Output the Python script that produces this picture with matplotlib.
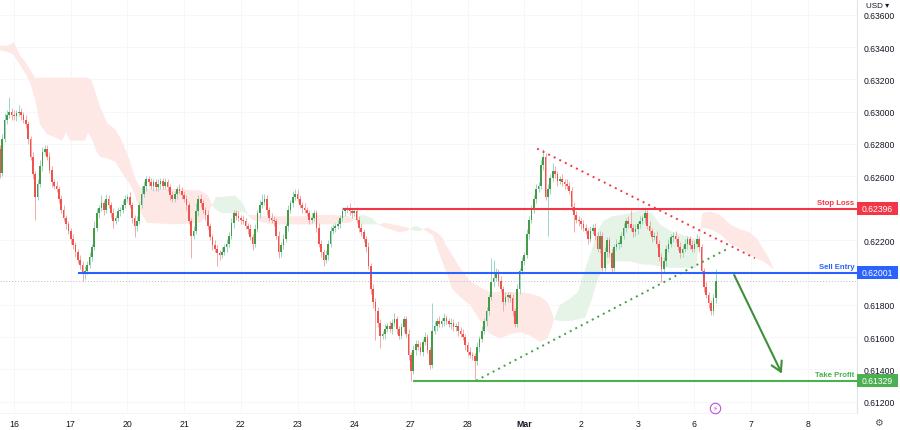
import numpy as np
import matplotlib.pyplot as plt
from matplotlib.patches import Rectangle
from matplotlib.transforms import blended_transform_factory

plt.rcParams['font.family'] = ['Liberation Sans', 'DejaVu Sans']

PIP = 0.0001
first_open = 0.6277

# hourly closes, one list per trading day (first list starts Feb 15 18:00)
feb15 = [0.6262, 0.6283, 0.6295, 0.6298, 0.6300, 0.6298]
feb16 = [0.6297, 0.6299, 0.6300, 0.6298, 0.6295, 0.6292, 0.6283, 0.6272, 0.6261, 0.6247, 0.6255, 0.6266,
         0.6275, 0.6277, 0.6272, 0.6264, 0.6256, 0.6254, 0.6252, 0.6246, 0.6239, 0.6234, 0.6230, 0.6226]
feb17 = [0.6221, 0.6217, 0.6213, 0.6208, 0.6205, 0.6200, 0.6201, 0.6205, 0.6210, 0.6216, 0.6228, 0.6237,
         0.6240, 0.6243, 0.6239, 0.6246, 0.6242, 0.6237, 0.6232, 0.6234, 0.6238, 0.6239, 0.6242, 0.6246]
feb20 = [0.6247, 0.6242, 0.6234, 0.6229, 0.6232, 0.6242, 0.6249, 0.6254, 0.6258, 0.6256, 0.6254, 0.6256,
         0.6253, 0.6255, 0.6257, 0.6254, 0.6256, 0.6253, 0.6248, 0.6246, 0.6249, 0.6252, 0.6251, 0.6248]
feb21 = [0.6246, 0.6242, 0.6232, 0.6223, 0.6226, 0.6238, 0.6246, 0.6243, 0.6239, 0.6236, 0.6229, 0.6222,
         0.6217, 0.6215, 0.6212, 0.6211, 0.6213, 0.6216, 0.6218, 0.6223, 0.6231, 0.6237, 0.6235, 0.6234]
feb22 = [0.6233, 0.6232, 0.6229, 0.6227, 0.6222, 0.6218, 0.6227, 0.6237, 0.6242, 0.6244, 0.6246, 0.6239,
         0.6234, 0.6233, 0.6232, 0.6223, 0.6213, 0.6217, 0.6221, 0.6229, 0.6239, 0.6243, 0.6247, 0.6249]
feb23 = [0.6246, 0.6242, 0.6240, 0.6239, 0.6237, 0.6233, 0.6234, 0.6237, 0.6228, 0.6218, 0.6213, 0.6208,
         0.6211, 0.6218, 0.6226, 0.6228, 0.6229, 0.6230, 0.6234, 0.6238, 0.6239, 0.6240, 0.6238, 0.6237]
feb24 = [0.6238, 0.6233, 0.6228, 0.6225, 0.6221, 0.6216, 0.6204, 0.6190, 0.6182, 0.6176, 0.6169, 0.6161,
         0.6162, 0.6165, 0.6167, 0.6165, 0.6169, 0.6171, 0.6165, 0.6161, 0.6166, 0.6171, 0.6162, 0.6149]
feb27 = [0.6139, 0.6152, 0.6156, 0.6154, 0.6151, 0.6157, 0.6160, 0.6152, 0.6143, 0.6164, 0.6167, 0.6170,
         0.6168, 0.6170, 0.6172, 0.6170, 0.6168, 0.6169, 0.6166, 0.6167, 0.6164, 0.6162, 0.6160, 0.6155]
feb28 = [0.6151, 0.6149, 0.6148, 0.6145, 0.6154, 0.6159, 0.6164, 0.6170, 0.6176, 0.6185, 0.6194, 0.6197,
         0.6200, 0.6195, 0.6190, 0.6182, 0.6185, 0.6186, 0.6184, 0.6176, 0.6168, 0.6190, 0.6201, 0.6207]
mar1 = [0.6211, 0.6224, 0.6233, 0.6239, 0.6246, 0.6252, 0.6254, 0.6267, 0.6272, 0.6247, 0.6252, 0.6259,
        0.6263, 0.6261, 0.6257, 0.6258, 0.6256, 0.6255, 0.6254, 0.6251, 0.6241, 0.6236, 0.6233, 0.6232]
mar2 = [0.6230, 0.6228, 0.6226, 0.6221, 0.6226, 0.6228, 0.6223, 0.6215, 0.6223, 0.6203, 0.6213, 0.6220,
        0.6212, 0.6203, 0.6216, 0.6218, 0.6218, 0.6223, 0.6228, 0.6232, 0.6230, 0.6228, 0.6225, 0.6227]
mar3 = [0.6230, 0.6232, 0.6234, 0.6237, 0.6229, 0.6226, 0.6222, 0.6223, 0.6218, 0.6210, 0.6202, 0.6207,
        0.6215, 0.6218, 0.6222, 0.6223, 0.6221, 0.6216, 0.6212, 0.6215, 0.6218, 0.6221, 0.6217, 0.6215]
mar6 = [0.6218, 0.6221, 0.6216, 0.6201, 0.6191, 0.6186, 0.6181, 0.6176, 0.6184, 0.6195]

# wick lengths in pips above / below the candle body
feb15_up = [2, 3, 4, 3, 9, 2]
feb15_dn = [3, 2, 2, 3, 2, 3]
feb16_up = [3, 2, 4, 2, 2, 3, 2, 2, 3, 2, 3, 4, 3, 2, 2, 3, 2, 2, 3, 2, 2, 3, 2, 2]
feb16_dn = [2, 3, 2, 3, 2, 2, 3, 2, 3, 14, 2, 2, 3, 2, 2, 2, 3, 2, 2, 3, 2, 2, 3, 2]
feb17_up = [2, 3, 2, 2, 3, 2, 3, 2, 3, 2, 4, 3, 2, 5, 2, 3, 2, 2, 3, 2, 3, 2, 3, 2]
feb17_dn = [3, 2, 3, 2, 3, 5, 4, 2, 2, 3, 2, 2, 3, 2, 3, 2, 2, 3, 4, 2, 2, 3, 2, 2]
feb20_up = [2, 3, 2, 2, 3, 2, 5, 3, 2, 2, 3, 2, 2, 3, 2, 2, 3, 2, 2, 3, 2, 2, 3, 2]
feb20_dn = [2, 2, 3, 7, 3, 2, 2, 2, 3, 2, 2, 3, 2, 2, 3, 2, 2, 2, 3, 2, 2, 3, 2, 2]
feb21_up = [3, 2, 2, 2, 3, 5, 2, 3, 2, 2, 3, 2, 2, 3, 2, 2, 3, 2, 3, 2, 3, 2, 2, 3]
feb21_dn = [2, 3, 2, 14, 2, 2, 3, 2, 2, 3, 2, 2, 3, 2, 8, 3, 2, 2, 3, 2, 2, 3, 2, 2]
feb22_up = [2, 3, 2, 2, 3, 2, 3, 2, 3, 5, 3, 2, 2, 3, 2, 2, 3, 2, 3, 2, 3, 2, 4, 3]
feb22_dn = [3, 2, 2, 3, 2, 4, 2, 2, 3, 2, 2, 3, 2, 2, 3, 2, 4, 3, 2, 2, 3, 2, 2, 2]
feb23_up = [3, 2, 2, 3, 2, 2, 3, 2, 2, 3, 2, 2, 3, 2, 3, 2, 2, 3, 2, 3, 2, 2, 3, 2]
feb23_dn = [2, 2, 3, 2, 2, 3, 2, 2, 3, 2, 3, 4, 2, 3, 2, 2, 3, 2, 2, 2, 3, 2, 2, 3]
feb24_up = [2, 3, 2, 3, 2, 2, 3, 2, 3, 2, 3, 2, 2, 3, 2, 3, 2, 4, 2, 2, 3, 2, 2, 3]
feb24_dn = [2, 2, 3, 2, 2, 3, 2, 3, 4, 18, 3, 8, 2, 3, 2, 2, 3, 2, 3, 2, 2, 3, 2, 3]
feb27_up = [2, 3, 2, 2, 3, 2, 3, 2, 2, 17, 3, 2, 3, 2, 3, 2, 2, 3, 2, 2, 3, 2, 3, 2]
feb27_dn = [6, 2, 3, 2, 2, 3, 2, 2, 3, 2, 2, 3, 2, 2, 3, 2, 2, 3, 2, 2, 3, 2, 2, 3]
feb28_up = [2, 3, 2, 2, 3, 2, 3, 2, 3, 2, 15, 11, 3, 2, 3, 2, 3, 2, 2, 3, 2, 3, 2, 3]
feb28_dn = [3, 2, 2, 11, 2, 3, 2, 2, 3, 2, 2, 3, 2, 3, 2, 6, 2, 3, 2, 3, 2, 2, 3, 2]
mar1_up = [2, 3, 2, 3, 2, 3, 2, 3, 5, 2, 3, 2, 5, 3, 2, 2, 3, 2, 3, 2, 2, 3, 2, 2]
mar1_dn = [2, 2, 3, 2, 2, 3, 2, 2, 3, 2, 24, 3, 2, 2, 3, 2, 2, 3, 2, 2, 3, 11, 2, 3]
mar2_up = [2, 3, 2, 2, 3, 2, 3, 2, 3, 2, 3, 2, 2, 3, 2, 3, 2, 2, 3, 2, 3, 9, 2, 3]
mar2_dn = [3, 2, 2, 3, 2, 2, 3, 2, 3, 2, 2, 3, 2, 3, 2, 2, 3, 2, 2, 3, 2, 2, 3, 2]
mar3_up = [2, 3, 2, 4, 2, 3, 2, 2, 3, 2, 2, 3, 2, 3, 2, 2, 3, 2, 3, 2, 3, 2, 2, 3]
mar3_dn = [3, 2, 2, 3, 2, 2, 3, 2, 2, 3, 8, 2, 3, 2, 2, 3, 2, 2, 3, 2, 2, 3, 2, 2]
mar6_up = [2, 3, 2, 2, 2, 3, 2, 2, 3, 7]
mar6_dn = [2, 2, 3, 2, 3, 2, 3, 2, 2, 3]

# Ichimoku cloud (bar index, span A, span B)
cloud_i = [0.07, 3.5, 6, 8.5, 10.7, 12.8, 14.9, 17, 20, 23.4, 26.3, 28, 29.7, 36, 37.3, 39, 40.7, 42.4,
           45.4, 48.8, 50.9, 53, 55.1, 57.2, 59.3, 62.3, 74.1, 84.7, 88.1, 89.8,
           91.5, 94, 99.5, 102.9, 105,
           106.7, 114.4, 127.1, 139.8, 148.2, 150.3,
           153.3, 157.5, 160.1,
           163, 169.4, 172.4, 173.6,
           175.7, 177.9, 179.1,
           181.3, 183.4, 185, 187.2, 189.3, 191.4, 194.8, 199, 203.3, 207.5, 211.7, 216, 220.2, 224.4,
           228.7, 231.6, 233.3, 234.6,
           237.1, 241.4, 244.7, 247.7, 250.7, 252.8, 255.3, 259.1, 266.7, 272.2, 276, 279.4, 283.7,
           290, 294.7, 296,
           297.3, 300.6, 304.8, 309.1, 313.3, 317.5, 320.5, 323, 325.2, 327.3]
span_a = [0.6338, 0.6337, 0.6335, 0.6329, 0.6324, 0.6318, 0.6308, 0.6292, 0.6286, 0.6284, 0.6282, 0.6287,
          0.6282, 0.6282, 0.6287, 0.6283, 0.6276, 0.6272, 0.6271, 0.6269, 0.6264, 0.6259, 0.6255, 0.6248,
          0.6238, 0.6231, 0.6230, 0.6231, 0.6236, 0.6242,
          0.6247, 0.6247, 0.6248, 0.6243, 0.6236,
          0.6233, 0.6230, 0.6230, 0.6230, 0.6231, 0.6233,
          0.6236, 0.6234, 0.6230,
          0.6228, 0.6225, 0.6226, 0.6227,
          0.6229, 0.6228, 0.6227,
          0.6225, 0.6223, 0.6216, 0.6207, 0.6199, 0.6190, 0.6185, 0.6180, 0.6170, 0.6162, 0.6159, 0.6162,
          0.6163, 0.6161, 0.6157, 0.6159, 0.6165, 0.6171,
          0.6180, 0.6184, 0.6188, 0.6202, 0.6215, 0.6225, 0.6232, 0.6235, 0.6237, 0.6239, 0.6237, 0.6230,
          0.6226, 0.6223, 0.6221, 0.6220,
          0.6228, 0.6227, 0.6224, 0.6218, 0.6215, 0.6211, 0.6209, 0.6207, 0.6205, 0.6202]
span_b = [0.6341, 0.6341, 0.6343, 0.6335, 0.6331, 0.6326, 0.6321, 0.6321, 0.6321, 0.6321, 0.6321, 0.6321,
          0.6321, 0.6321, 0.6321, 0.6319, 0.6311, 0.6303, 0.6293, 0.6289, 0.6284, 0.6277, 0.6269, 0.6259,
          0.6253, 0.6252, 0.6252, 0.6251, 0.6248, 0.6242,
          0.6239, 0.6237, 0.6237, 0.6238, 0.6236,
          0.6236, 0.6235, 0.6235, 0.6236, 0.6235, 0.6233,
          0.6230, 0.6230, 0.6230,
          0.6231, 0.6229, 0.6228, 0.6227,
          0.6226, 0.6226, 0.6227,
          0.6228, 0.6226, 0.6225, 0.6222, 0.6216, 0.6211, 0.6203, 0.6195, 0.6191, 0.6188, 0.6188, 0.6188,
          0.6188, 0.6187, 0.6185, 0.6182, 0.6177, 0.6171,
          0.6170, 0.6170, 0.6171, 0.6172, 0.6184, 0.6195, 0.6203, 0.6207, 0.6207, 0.6205, 0.6205, 0.6204,
          0.6203, 0.6203, 0.6203, 0.6220,
          0.6237, 0.6238, 0.6236, 0.6230, 0.6227, 0.6225, 0.6221, 0.6215, 0.6210, 0.6203]

# trade levels
levels = [0.62396, 0.62001, 0.61329]
level_names = ['Stop Loss', 'Sell Entry', 'Take Profit']
level_start = [145.3, 33.1, 174.9]
level_colors = ['#f23645', '#2962ff', '#4caf50']

# trend lines (bar index, price)
red_tl_x, red_tl_y = [227.4, 319.6], [0.6277, 0.6209]
green_tl_x, green_tl_y = [201.6, 308.2], [0.6133, 0.6215]
arrow_from, arrow_to = (310.3, 0.62001), (331.5, 0.61358)

day_labels = ['16', '17', '20', '21', '22', '23', '24', '27', '28', 'Mar', '2', '3', '6', '7', '8']
day_pos = [6, 30, 54, 78, 102, 126, 150, 174, 198, 222, 246, 270, 294, 318, 342]
price_ticks = [0.612, 0.614, 0.616, 0.618, 0.622, 0.626, 0.628, 0.630, 0.632, 0.634, 0.636]

closes = np.array(feb15 + feb16 + feb17 + feb20 + feb21 + feb22 + feb23 + feb24 + feb27 + feb28
                  + mar1 + mar2 + mar3 + mar6)
up = np.array(feb15_up + feb16_up + feb17_up + feb20_up + feb21_up + feb22_up + feb23_up + feb24_up
              + feb27_up + feb28_up + mar1_up + mar2_up + mar3_up + mar6_up) * PIP
dn = np.array(feb15_dn + feb16_dn + feb17_dn + feb20_dn + feb21_dn + feb22_dn + feb23_dn + feb24_dn
              + feb27_dn + feb28_dn + mar1_dn + mar2_dn + mar3_dn + mar6_dn) * PIP
idx = np.arange(len(closes))
opens = np.r_[first_open, closes[:-1]]
highs = np.maximum(opens, closes) + up
lows = np.minimum(opens, closes) - dn
rise = closes >= opens

fig = plt.figure(figsize=(9, 4.31), dpi=100)
ax = fig.add_axes([0, 17 / 431, 857 / 900, 414 / 431])
ax.set_xlim(0.07, 362.8)
ax.set_ylim(0.61129, 0.63699)

for s in ['top', 'left']:
    ax.spines[s].set_visible(False)
ax.spines['right'].set_color('#e0e3eb')
ax.spines['right'].set_linewidth(0.8)
ax.spines['bottom'].set_color('#f0f1f4')
ax.spines['bottom'].set_linewidth(0.6)

for v in day_pos:
    ax.axvline(v, color='#f5f6f9', lw=0.6, zorder=0)
for t in price_ticks:
    ax.axhline(t, color='#f5f6f9', lw=0.6, zorder=0)

# cloud
ci = np.array(cloud_i)
sa = np.array(span_a)
sb = np.array(span_b)
ax.fill_between(ci, sa, sb, where=sa >= sb, interpolate=True, color='#e6f3e7', lw=0, zorder=1)
ax.fill_between(ci, sa, sb, where=sa < sb, interpolate=True, color='#fde8e5', lw=0, zorder=1)

# candles
body_h = np.maximum(np.abs(closes - opens), 0.00002)
ax.vlines(idx[rise], lows[rise], highs[rise], color='#9ad6c8', lw=0.7, zorder=3)
ax.vlines(idx[~rise], lows[~rise], highs[~rise], color='#f5a9a6', lw=0.7, zorder=3)
ax.bar(idx[rise], body_h[rise], bottom=opens[rise], width=0.72, color='#469c44', lw=0, zorder=4)
ax.bar(idx[~rise], body_h[~rise], bottom=closes[~rise], width=0.72, color='#ef5350', lw=0, zorder=4)

# last price line
ax.axhline(closes[-1], color='#b8bcc6', lw=0.7, ls=(0, (1, 2)), zorder=2)

# trend lines
ax.plot(red_tl_x, red_tl_y, color='#f23645', lw=1.4, ls=(0, (1, 2.2)), zorder=5)
ax.plot(green_tl_x, green_tl_y, color='#43a047', lw=1.4, ls=(0, (1, 2.2)), zorder=5)

# levels, labels and price tags
blend = blended_transform_factory(ax.transAxes, ax.transData)
tag_h = 0.00040
for lv, name, x0, col in zip(levels, level_names, level_start, level_colors):
    ax.hlines(lv, x0, 362.8, color=col, lw=1.5, zorder=6)
    ax.annotate(name, xy=(1, lv), xycoords=('axes fraction', 'data'), xytext=(-2, 2),
                textcoords='offset points', ha='right', va='bottom', fontsize=5.6,
                fontweight='bold', color=col, zorder=7)
    ax.add_patch(Rectangle((1.0, lv - tag_h), 0.048, 2 * tag_h, transform=blend,
                           facecolor=col, edgecolor='none', clip_on=False, zorder=8))
    ax.text(1.024, lv, f'{lv:.5f}', transform=blend, ha='center', va='center',
            fontsize=6.2, color='white', zorder=9, clip_on=False)

ax.annotate('', xy=arrow_to, xytext=arrow_from,
            arrowprops=dict(arrowstyle='->,head_length=0.7,head_width=0.4', color='#3d8f3a', lw=1.5),
            zorder=7)

# event icon
ax.plot([302.8], [0.61160], 'o', ms=7.5, mfc='white', mec='#c04fd8', mew=0.8, zorder=6, clip_on=False)
ax.text(302.8, 0.61160, '\u26a1', fontsize=5, color='#c04fd8', ha='center', va='center',
        family='DejaVu Sans', zorder=7)

# axes ticks
ax.yaxis.tick_right()
ax.set_yticks(price_ticks)
ax.set_yticklabels([f'{t:.5f}' for t in price_ticks])
ax.tick_params(axis='y', length=0, pad=5, labelsize=6.2, labelcolor='#131722')
ax.set_xticks(day_pos)
ax.set_xticklabels(day_labels)
ax.tick_params(axis='x', length=0, pad=4, labelsize=6.3, labelcolor='#131722')
for lab in ax.get_xticklabels():
    if lab.get_text() == 'Mar':
        lab.set_fontweight('bold')

fig.text(866 / 900, 1 - 6 / 431, 'USD \u25be', fontsize=5.8, color='#131722', ha='left', va='center')
fig.text(878 / 900, 1 - 423 / 431, '\u2699', fontsize=7, color='#50535e', ha='center', va='center',
         family='DejaVu Sans')

fig.savefig('out.png', dpi=100)
